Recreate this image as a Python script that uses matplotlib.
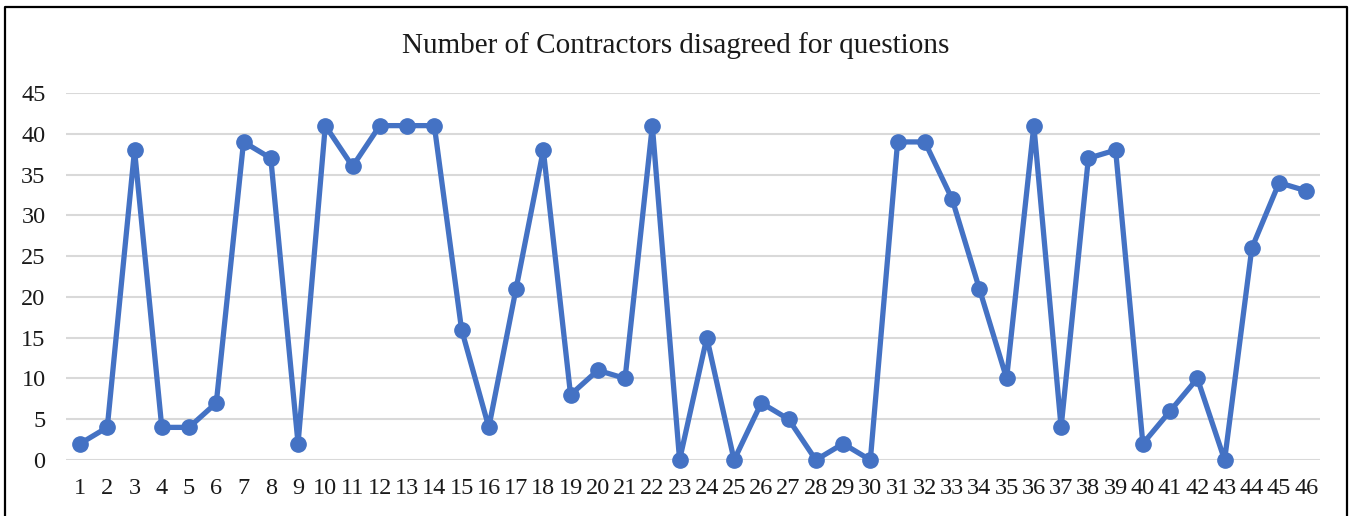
import matplotlib
matplotlib.use("Agg")
import matplotlib.pyplot as plt
from matplotlib.lines import Line2D

questions = list(range(1, 47))
disagreed = [2, 4, 38, 4, 4, 7, 39, 37, 2, 41, 36, 41, 41, 41, 16, 4, 21, 38, 8, 11,
             10, 41, 0, 15, 0, 7, 5, 0, 2, 0, 39, 39, 32, 21, 10, 41, 4, 37, 38, 2,
             6, 10, 0, 26, 34, 33]
yticks = list(range(0, 50, 5))
title = "Number of Contractors disagreed for questions"

plt.rcParams['font.family'] = ['Liberation Serif', 'DejaVu Serif']

W, H = 1352, 516
fig = plt.figure(figsize=(W / 100, H / 100), dpi=100)
ax = fig.add_axes([66.4 / W, 1 - 460 / H, (1320 - 66.4) / W, (460 - 93) / H])

ax.plot(questions, disagreed, color='#4472C4', linewidth=3.8, marker='o',
        markersize=11, solid_joinstyle='round', solid_capstyle='round',
        clip_on=False, zorder=3)
ax.set_xlim(0.5, 46.5)
ax.set_ylim(0, 45)
ax.set_yticks(yticks)
ax.set_xticks(questions)
ax.set_xticklabels([str(q) for q in questions])
ax.grid(axis='y', color='#D9D9D9', linewidth=1.5, zorder=0)
ax.set_axisbelow(True)
for s in ax.spines.values():
    s.set_visible(False)
ax.tick_params(axis='both', length=0, labelsize=17.5, colors='#1a1a1a')
ax.tick_params(axis='x', pad=13)
ax.tick_params(axis='y', pad=15)
for lbl in ax.get_yticklabels():
    lbl.set_horizontalalignment('right')

fig.text(676 / W, 1 - 46 / H, title, ha='center', va='center', fontsize=21,
         color='#1a1a1a')

# outer frame (left, top, right)
x0, x1, yt = 4.5 / W, 1347 / W, 1 - 6.5 / H
fig.add_artist(Line2D([x0, x0, x1, x1], [-0.05, yt, yt, -0.05],
                      transform=fig.transFigure, color='black', linewidth=1.6))

fig.savefig('out.png', dpi=100)
